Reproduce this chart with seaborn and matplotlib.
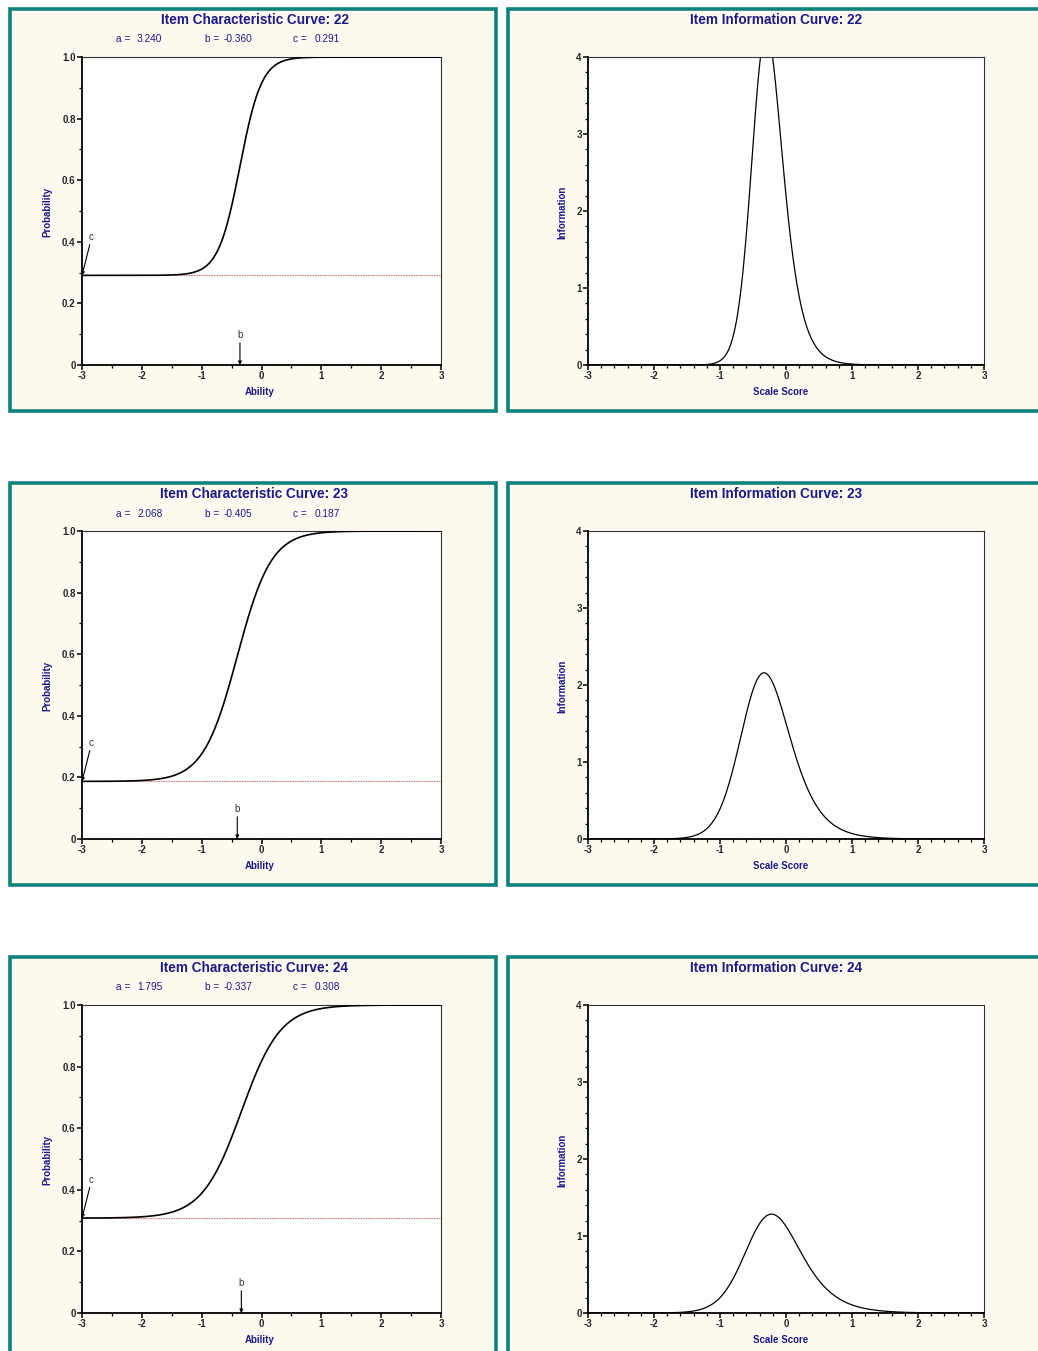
import numpy as np
import pandas as pd
import matplotlib
matplotlib.use("Agg")
import matplotlib.pyplot as plt
import seaborn as sns
from matplotlib.patches import Rectangle
from matplotlib.ticker import MultipleLocator

# ---- data (item parameters) ----
items = [22, 23, 24]
a_params = [3.240, 2.068, 1.795]
b_params = [-0.360, -0.405, -0.337]
c_params = [0.291, 0.187, 0.308]
a_texts = ["3.240", "2.068", "1.795"]
b_texts = ["-0.360", "-0.405", "-0.337"]
c_texts = ["0.291", "0.187", "0.308"]

x_ticks = [-3, -2, -1, 0, 1, 2, 3]
x_ticklabels = ["-3", "-2", "-1", "0", "1", "2", "3"]
icc_yticks = [0, 0.2, 0.4, 0.6, 0.8, 1.0]
icc_yticklabels = ["0", "0.2", "0.4", "0.6", "0.8", "1.0"]
iic_yticks = [0, 1, 2, 3, 4]
iic_yticklabels = ["0", "1", "2", "3", "4"]

D = 1.7
theta = np.linspace(-3, 3, 1201)

sns.set_style("white")
plt.rcParams["font.family"] = ["Liberation Sans", "DejaVu Sans"]

W, H = 1038, 1351
fig = plt.figure(figsize=(W / 100, H / 100), dpi=100)
fig.patch.set_facecolor("white")

NAVY = "#1a1a8a"
TEAL = "#0b837d"
CREAM = "#fffaf0"


def fig_rect(x0, y0, x1, y1):
    return (x0 / W, 1 - y1 / H, (x1 - x0) / W, (y1 - y0) / H)


def add_panel(x0, y0, x1, y1):
    l, b, w, h = fig_rect(x0, y0, x1, y1)
    fig.add_artist(Rectangle((l, b), w, h, transform=fig.transFigure,
                             facecolor=CREAM, edgecolor=TEAL, lw=2.6,
                             zorder=-5))


def style_axes(ax):
    ax.set_facecolor("white")
    for s in ["left", "bottom"]:
        ax.spines[s].set_color("black")
        ax.spines[s].set_linewidth(1.3)
    for s in ["top", "right"]:
        ax.spines[s].set_color("#333333")
        ax.spines[s].set_linewidth(0.8)
        ax.spines[s].set_visible(True)
    ax.tick_params(axis="both", which="major", direction="out", length=3.5,
                   width=1.1, pad=1, color="black", left=True, bottom=True)
    ax.tick_params(axis="both", which="minor", direction="out", length=2.2,
                   width=0.9, color="black", left=True, bottom=True)


def ftext(x, y, s, **kw):
    fig.text(x / W, 1 - y / H, s, **kw)


row_step = 474
for r in range(3):
    a, b, c = a_params[r], b_params[r], c_params[r]
    off = r * row_step
    top = 9 + off
    bot = 411 + off if r < 2 else 1370
    add_panel(9.5, top, 496.5, bot)
    add_panel(508, top, 1045, bot)

    P = c + (1 - c) / (1 + np.exp(-D * a * (theta - b)))
    Q = 1 - P
    info = (D * a) ** 2 * (Q / P) * ((P - c) / (1 - c)) ** 2
    df = pd.DataFrame({"theta": theta, "P": P, "info": info})

    # ---- ICC ----
    ax1 = fig.add_axes(fig_rect(82, 57 + off, 441, 365 + off))
    style_axes(ax1)
    ax1.axhline(c, color="#e06868", lw=0.7, ls=(0, (1.6, 1.0)), zorder=1)
    sns.lineplot(data=df, x="theta", y="P", ax=ax1, color="black", lw=1.2,
                 zorder=3)
    ax1.set_xlim(-3, 3)
    ax1.set_ylim(0, 1)
    ax1.set_xticks(x_ticks, labels=x_ticklabels, fontsize=7, fontweight="bold")
    ax1.set_yticks(icc_yticks, labels=icc_yticklabels, fontsize=7,
                   fontweight="bold")
    ax1.xaxis.set_minor_locator(MultipleLocator(0.5))
    ax1.yaxis.set_minor_locator(MultipleLocator(0.1))
    ax1.set_xlabel("Ability", fontsize=7, fontweight="bold", color=NAVY)
    ax1.xaxis.set_label_coords(0.496, -27 / 308)
    ax1.xaxis.label.set_va("center")
    ax1.set_ylabel("Probability", fontsize=7, fontweight="bold", color=NAVY)
    ax1.yaxis.set_label_coords(-35 / 359, 0.497)
    ax1.yaxis.label.set_va("center")

    # c annotation
    ax1.annotate("", xy=(-3, c), xytext=(-2.87, c + 0.10),
                 arrowprops=dict(arrowstyle="-|>", lw=0.8, color="black",
                                 mutation_scale=5, shrinkA=0, shrinkB=0),
                 annotation_clip=False)
    ax1.text(-2.85, c + 0.125, "c", fontsize=7, color="#333333",
             ha="center", va="center")
    # b annotation
    ax1.annotate("", xy=(b, 0), xytext=(b, 0.072),
                 arrowprops=dict(arrowstyle="-|>", lw=0.8, color="black",
                                 mutation_scale=5, shrinkA=0, shrinkB=0),
                 annotation_clip=False)
    ax1.text(b, 0.097, "b", fontsize=7, color="#333333",
             ha="center", va="center")

    ftext(254.5, 20 + off, f"Item Characteristic Curve: {items[r]}",
          fontsize=9.8, fontweight="bold", color=NAVY, ha="center", va="center")
    pk = dict(fontsize=7.3, color=NAVY, ha="left", va="center")
    ftext(116, 39.5 + off, "a =", **pk)
    ftext(137, 39.5 + off, a_texts[r], **pk)
    ftext(205, 39.5 + off, "b =", **pk)
    ftext(224, 39.5 + off, b_texts[r], **pk)
    ftext(293, 39.5 + off, "c =", **pk)
    ftext(315, 39.5 + off, c_texts[r], **pk)

    # ---- IIC ----
    ax2 = fig.add_axes(fig_rect(588, 57 + off, 984, 365 + off))
    style_axes(ax2)
    sns.lineplot(data=df, x="theta", y="info", ax=ax2, color="black", lw=0.9)
    ax2.set_xlim(-3, 3)
    ax2.set_ylim(0, 4)
    ax2.set_xticks(x_ticks, labels=x_ticklabels, fontsize=7, fontweight="bold")
    ax2.set_yticks(iic_yticks, labels=iic_yticklabels, fontsize=7,
                   fontweight="bold")
    ax2.xaxis.set_minor_locator(MultipleLocator(0.2))
    ax2.yaxis.set_minor_locator(MultipleLocator(0.2))
    ax2.set_xlabel("Scale Score", fontsize=7, fontweight="bold", color=NAVY)
    ax2.xaxis.set_label_coords((781 - 588) / 396, -27 / 308)
    ax2.xaxis.label.set_va("center")
    ax2.set_ylabel("Information", fontsize=7, fontweight="bold", color=NAVY)
    ax2.yaxis.set_label_coords(-26 / 396, 0.497)
    ax2.yaxis.label.set_va("center")

    ftext(776, 20 + off, f"Item Information Curve: {items[r]}",
          fontsize=9.8, fontweight="bold", color=NAVY, ha="center", va="center")

fig.savefig("out.png", dpi=100, facecolor="white")
